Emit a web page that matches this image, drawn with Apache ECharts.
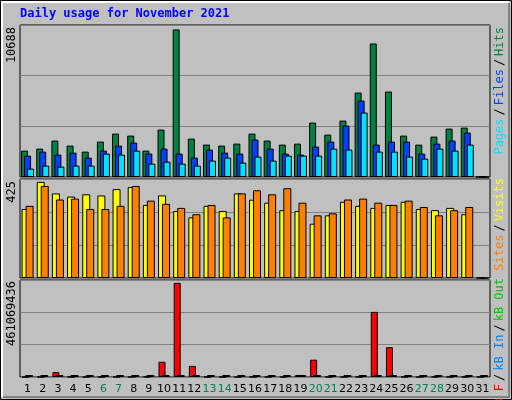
<!DOCTYPE html>
<html>
<head>
<meta charset="utf-8">
<script src="https://cdn.jsdelivr.net/npm/echarts@6/dist/echarts.min.js"></script>
<style>html,body{margin:0;padding:0;background:#c0c0c0}#chart{width:512px;height:400px}</style>
</head>
<body>
<div id="chart"></div>
<script>
var days = [];
for (var d = 1; d <= 31; d++) days.push(String(d));
var weekend = ['6', '7', '13', '14', '20', '21', '27', '28'];

var hits = [1910,2055,2636,2273,1838,2563,3143,2998,1910,3434,10688,2781,2345,2273,2418,3143,2636,2345,2418,3941,3071,4086,6117,9672,6190,2998,2345,2926,3506,3579,0];
var files = [1548,1838,1620,1765,1402,1910,2273,2491,1693,2055,1693,1402,1983,1765,1693,2708,2055,1693,1620,2200,2563,3724,5537,2345,2563,2563,1693,2418,2636,3216,0];
var pages = [605,822,750,822,822,1693,1620,1910,967,1112,967,822,1185,1402,1040,1475,1185,1548,1548,1548,2055,1983,4667,1838,1838,1475,1330,2055,1910,2345,0];
var visits = [305,425,374,360,370,365,393,402,323,365,296,268,319,296,374,346,333,300,296,240,277,337,319,310,323,337,305,300,310,282,0];
var sites = [319,407,347,351,305,305,319,407,342,328,310,282,323,268,374,388,370,397,333,277,286,347,351,333,323,342,314,277,300,314,0];
var kbF = [0,0,23700000,0,0,0,0,0,0,74600000,461069436,54200000,0,0,0,0,0,0,10000000,84800000,0,0,0,318700000,145800000,0,0,0,0,0,0];
var kbIn = [0,0,0,0,0,0,0,0,0,0,0,0,0,0,0,0,0,0,0,0,0,0,0,0,0,0,0,0,0,0,0];

var hitsMax = 10688, visitsMax = 425, kbMax = 461069436;
var mono = 'DejaVu Sans Mono';

var myChart = echarts.init(document.getElementById('chart'));

function yAx(idx, max) {
    var m = max * 1.03;
    return { gridIndex: idx, min: 0, max: m, interval: m / 3,
        axisLabel: { show: false }, axisTick: { show: false }, axisLine: { show: false },
        splitLine: { lineStyle: { color: '#808080', width: 1 } } };
}
function xAx(idx, labels) {
    return { type: 'category', gridIndex: idx, data: days,
        axisTick: { show: false }, axisLine: { show: false },
        axisLabel: { show: labels, margin: 7, interval: 0, fontFamily: 'DejaVu Sans', fontSize: 11, color: '#000',
            formatter: function (v) { return weekend.indexOf(v) >= 0 ? '{w|' + v + '}' : v; },
            rich: { w: { color: '#00805c', fontFamily: 'DejaVu Sans', fontSize: 11 } } } };
}
function bar(name, data, color, xi, w, gap, extra) {
    var s = { name: name, type: 'bar', data: data, xAxisIndex: xi, yAxisIndex: xi,
        barWidth: w, barGap: gap, animation: false,
        itemStyle: { color: color, borderColor: '#000', borderWidth: 1 } };
    for (var k in extra) s[k] = extra[k];
    return s;
}

myChart.setOption({
    backgroundColor: '#c0c0c0',
    grid: [
        { left: 20, width: 470, top: 25, height: 152, show: true, borderColor: '#000', borderWidth: 1, containLabel: false },
        { left: 20, width: 470, top: 179, height: 99, show: true, borderColor: '#000', borderWidth: 1 },
        { left: 20, width: 470, top: 280, height: 97, show: true, borderColor: '#000', borderWidth: 1 }
    ],
    xAxis: [xAx(0, false), xAx(1, false), xAx(2, true)],
    yAxis: [yAx(0, hitsMax), yAx(1, visitsMax), yAx(2, kbMax)],
    series: [
        bar('Hits', hits, '#008040', 0, 7, '-57%'),
        bar('Files', files, '#0040ff', 0, 7, '-57%'),
        bar('Pages', pages, '#00e0ff', 0, 7, '-57%'),
        bar('Visits', visits, '#ffff00', 1, 8, '-50%'),
        bar('Sites', sites, '#ff8000', 1, 8, '-50%'),
        bar('kB F', kbF, '#ff0000', 2, 7, '-57%'),
        bar('kB In', kbIn, '#0080ff', 2, 8, '-57%', { barMinHeight: 2 })
    ],
    graphic: [
        { type: 'rect', shape: { x: 0.5, y: 0.5, width: 511, height: 399 }, style: { fill: 'none', stroke: '#000', lineWidth: 1 } },
        { type: 'polyline', shape: { points: [[2, 397], [2, 2], [509, 2]] }, style: { stroke: '#fff', lineWidth: 2, fill: 'none' } },
        { type: 'polyline', shape: { points: [[3, 397], [509, 397], [509, 3]] }, style: { stroke: '#808080', lineWidth: 2, fill: 'none' } },
        { type: 'text', left: 20, top: 8, style: { text: 'Daily usage for November 2021', fill: '#0000ff', font: 'bold 12px ' + mono } },
        { type: 'text', x: 12, y: 27, rotation: Math.PI / 2, style: { text: '10688', fill: '#000', font: '12px ' + mono, align: 'right', verticalAlign: 'middle' } },
        { type: 'text', x: 12, y: 181, rotation: Math.PI / 2, style: { text: '425', fill: '#000', font: '12px ' + mono, align: 'right', verticalAlign: 'middle' } },
        { type: 'text', x: 12, y: 281, rotation: Math.PI / 2, style: { text: '461069436', fill: '#000', font: '12px ' + mono, align: 'right', verticalAlign: 'middle' } },
        { type: 'text', x: 500, y: 27, rotation: Math.PI / 2, style: { align: 'right', verticalAlign: 'middle', font: '12px ' + mono,
            text: '{p|Pages}{s|/}{f|Files}{s|/}{h|Hits}',
            rich: { p: { fill: '#00e0ff', font: '12px ' + mono }, f: { fill: '#0040ff', font: '12px ' + mono }, h: { fill: '#008040', font: '12px ' + mono }, s: { fill: '#000', font: '12px ' + mono, padding: [0, 3] } } } },
        { type: 'text', x: 500, y: 178, rotation: Math.PI / 2, style: { align: 'right', verticalAlign: 'middle', font: '12px ' + mono,
            text: '{o|Sites}{s|/}{v|Visits}',
            rich: { o: { fill: '#ff8000', font: '12px ' + mono }, v: { fill: '#ffff00', font: '12px ' + mono }, s: { fill: '#000', font: '12px ' + mono, padding: [0, 3] } } } },
        { type: 'text', x: 500, y: 278, rotation: Math.PI / 2, style: { align: 'right', verticalAlign: 'middle', font: '12px ' + mono,
            text: '{r|kB F}{s|/}{b|kB In}{s|/}{g|kB Out}',
            rich: { r: { fill: '#ff0000', font: '12px ' + mono }, b: { fill: '#0080ff', font: '12px ' + mono }, g: { fill: '#00c000', font: '12px ' + mono }, s: { fill: '#000', font: '12px ' + mono, padding: [0, 3] } } } }
    ]
});
</script>
</body>
</html>
